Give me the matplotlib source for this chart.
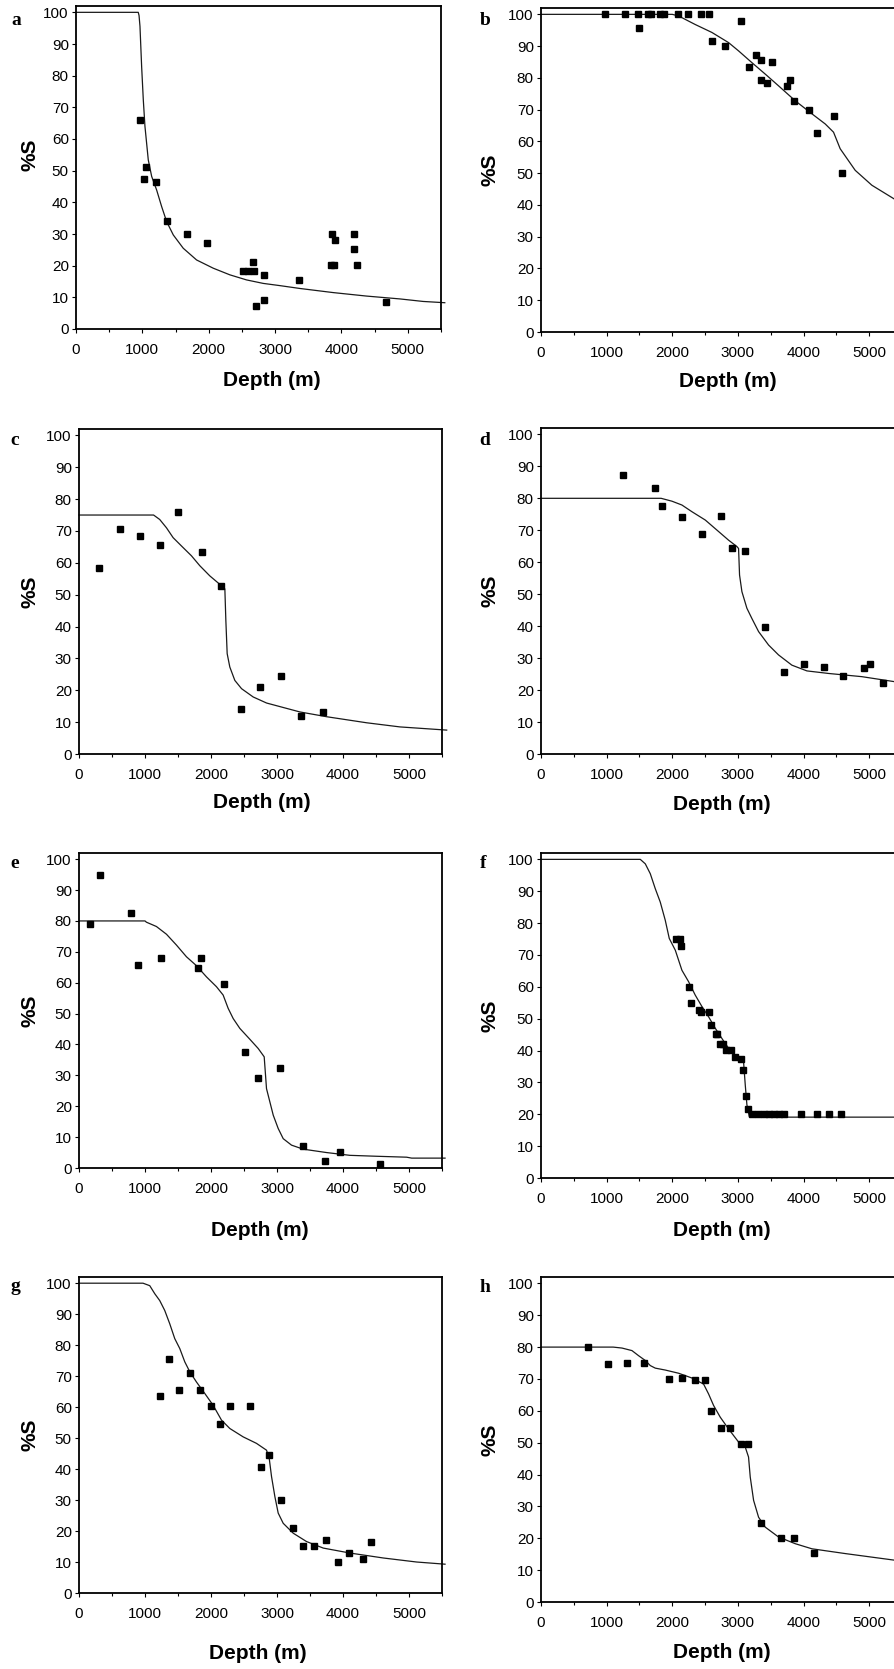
import matplotlib
matplotlib.use("Agg")
import matplotlib.pyplot as plt
from matplotlib.ticker import MultipleLocator

plt.rcParams['font.family'] = ['Liberation Sans', 'DejaVu Sans']

W, H = 895, 1669

# --- data (depth in m, %S) ---
a_depth = [969, 1024, 1054, 1210, 1370, 1667, 1968, 2510, 2595, 2681, 2666, 2716,
           2836, 2836, 3363, 3835, 3890, 3855, 3906, 4192, 4192, 4237, 4664]
a_s = [66.0, 47.3, 51.0, 46.3, 34.1, 30.0, 27.1, 18.3, 18.3, 18.3, 21.3, 7.3,
       17.2, 9.1, 15.4, 20.1, 20.1, 30.0, 28.2, 30.0, 25.2, 20.1, 8.4]
a_fit_depth = [0, 938, 950, 964, 989, 1014, 1039, 1064, 1089, 1140, 1215, 1290, 1366,
               1466, 1616, 1817, 2068, 2319, 2570, 2821, 3072, 3373, 3875, 4377, 4880,
               5231, 5557]
a_fit_s = [100, 100, 99, 95.6, 82.9, 72.4, 64.0, 58.7, 53.4, 48.2, 43.9, 38.7, 33.9,
           29.7, 25.5, 21.8, 19.2, 17.1, 15.5, 14.4, 13.7, 12.8, 11.5, 10.4, 9.5, 8.7, 8.3]

b_depth = [980, 1279, 1472, 1487, 1624, 1675, 1807, 1868, 2081, 2234, 2431, 2553, 3046,
           2604, 2802, 3173, 3279, 3345, 3513, 3345, 3437, 3741, 3797, 3848, 4076, 4198,
           4462, 4589]
b_s = [100, 100, 100, 95.7, 100, 100, 100, 100, 100, 100, 100, 100, 97.8, 91.7, 90.0,
       83.3, 87.3, 85.5, 85.1, 79.3, 78.3, 77.4, 79.3, 72.8, 69.8, 62.6, 68.0, 50.2]
b_fit_depth = [0, 2000, 2096, 2350, 2604, 2858, 3010, 3213, 3416, 3619, 3873, 4127, 4330,
               4457, 4558, 4787, 5041, 5396, 5500]
b_fit_s = [100, 100, 99.5, 96.8, 94.3, 91.1, 88.5, 84.8, 81.2, 77.5, 72.8, 68.7, 65.5,
           62.9, 57.7, 50.9, 46.2, 41.7, 40.6]

c_depth = [308, 622, 925, 1223, 1507, 1860, 2159, 2457, 2740, 3059, 3357, 3691]
c_s = [58.4, 70.7, 68.5, 65.5, 76.1, 63.4, 52.6, 14.1, 20.9, 24.6, 12.0, 13.3]
c_fit_depth = [0, 1130, 1223, 1325, 1426, 1552, 1704, 1830, 1982, 2159, 2210, 2225, 2245,
               2285, 2361, 2463, 2639, 2842, 3094, 3347, 3752, 4358, 4863, 5571]
c_fit_s = [75, 75, 73.6, 71.0, 67.9, 65.3, 62.2, 59.1, 55.9, 52.8, 51.8, 41.9, 31.5,
           27.3, 23.1, 20.5, 17.9, 16.0, 14.6, 13.2, 11.7, 9.8, 8.5, 7.5]

d_depth = [1244, 1741, 1848, 2147, 2447, 2746, 2909, 3102, 3406, 3706, 4005, 4310, 4604,
           4914, 5015, 5208]
d_s = [87.2, 83.2, 77.7, 74.1, 68.9, 74.6, 64.3, 63.5, 39.8, 25.8, 28.3, 27.2, 24.3,
       26.8, 28.3, 22.2]
d_fit_depth = [0, 1830, 1995, 2147, 2300, 2503, 2706, 2858, 2985, 3010, 3025, 3061, 3137,
               3213, 3315, 3467, 3619, 3822, 4051, 4381, 4888, 5396, 5500]
d_fit_s = [80, 80, 79.1, 77.9, 75.8, 73.2, 69.6, 66.9, 64.9, 64.3, 56.0, 50.8, 45.6,
           42.4, 38.3, 34.1, 31.0, 27.8, 26.0, 25.2, 24.2, 22.6, 22.4]

e_depth = [167, 324, 784, 890, 1244, 1805, 1855, 2194, 2513, 2705, 3038, 3392, 3726,
           3953, 4565]
e_s = [79.1, 94.9, 82.5, 65.6, 67.9, 64.9, 67.9, 59.6, 37.7, 29.0, 32.4, 7.2, 2.3, 5.3, 1.4]
e_fit_depth = [0, 1000, 1021, 1173, 1325, 1476, 1628, 1780, 1931, 2083, 2184, 2260, 2336,
               2437, 2588, 2715, 2806, 2841, 2892, 2943, 3018, 3094, 3220, 3397, 3751,
               4105, 4509, 4964, 5040, 5546]
e_fit_s = [80, 80, 79.6, 78.2, 75.7, 72.2, 68.4, 65.5, 61.9, 58.7, 56.0, 51.7, 48.4,
           45.2, 41.7, 38.7, 36.0, 25.7, 21.4, 17.1, 12.8, 9.5, 7.4, 6.1, 5.0, 4.1, 3.8,
           3.5, 3.2, 3.2]

f_depth = [2061, 2117, 2132, 2249, 2284, 2401, 2437, 2553, 2589, 2660, 2685, 2731, 2777,
           2822, 2893, 2959, 3051, 3081, 3117, 3157, 3213, 3305, 3391, 3467, 3543, 3619,
           3695, 3954, 4198, 4381, 4574]
f_s = [74.9, 74.9, 72.9, 60.0, 55.0, 52.8, 52.0, 52.0, 48.0, 45.1, 45.1, 42.0, 42.0,
       40.1, 40.1, 37.9, 37.2, 33.8, 25.8, 21.7, 20, 20, 20, 20, 20, 20, 20, 20, 20, 20, 20]
f_fit_depth = [0, 1513, 1589, 1665, 1741, 1817, 1893, 1954, 2046, 2147, 2249, 2350, 2452,
               2553, 2655, 2756, 2858, 2959, 3086, 3112, 3137, 3173, 3213, 5500]
f_fit_s = [100, 100, 98.6, 95.5, 90.8, 86.6, 80.9, 75.2, 71.5, 65.2, 61.6, 57.4, 53.8,
           50.6, 47.0, 43.8, 40.7, 38.6, 36.5, 29.2, 23.0, 19.3, 19.1, 19.1]

g_depth = [1223, 1365, 1522, 1684, 1840, 1997, 2139, 2295, 2598, 2760, 2882, 3059, 3246,
           3392, 3564, 3746, 3923, 4095, 4307, 4429]
g_s = [63.5, 75.5, 65.5, 71.0, 65.5, 60.2, 54.5, 60.2, 60.2, 40.7, 44.4, 29.9, 20.9,
       15.3, 15.3, 17.2, 10.1, 12.8, 10.9, 16.4]
g_fit_depth = [0, 970, 1072, 1148, 1223, 1299, 1375, 1451, 1527, 1603, 1679, 1780, 1906,
               2032, 2159, 2285, 2487, 2689, 2841, 2882, 2917, 2968, 3018, 3094, 3246,
               3448, 3701, 4105, 4611, 5116, 5546]
g_fit_s = [100, 100, 99.2, 96.6, 94.4, 91.2, 86.9, 82.1, 78.9, 74.6, 71.4, 68.1, 64.4,
           60.6, 55.8, 53.1, 50.4, 48.3, 46.1, 43.5, 37.6, 31.1, 25.8, 22.5, 19.3, 16.6,
           14.5, 12.9, 11.3, 10.0, 9.3]

h_depth = [711, 1015, 1315, 1563, 1949, 2147, 2340, 2503, 2589, 2736, 2873, 3046, 3152,
           3350, 3650, 3848, 4152]
h_s = [80.1, 74.7, 75.0, 75.0, 70.0, 70.2, 69.6, 69.6, 60.1, 54.6, 54.6, 49.6, 49.6,
       24.8, 20.0, 20.0, 15.4]
h_fit_depth = [0, 1100, 1234, 1386, 1487, 1589, 1665, 1741, 1893, 2096, 2299, 2477, 2553,
               2629, 2731, 2858, 3010, 3112, 3162, 3188, 3239, 3315, 3416, 3619, 3873,
               4127, 4635, 5396, 5500]
h_fit_s = [80, 80, 79.7, 78.9, 77.3, 75.8, 74.2, 73.4, 72.8, 71.8, 70.3, 68.4, 65.3,
           61.7, 58.0, 54.3, 50.2, 48.6, 45.5, 39.2, 31.9, 26.6, 23.5, 20.4, 18.3, 16.7,
           15.2, 13.1, 12.9]

x_ticks = [0, 1000, 2000, 3000, 4000, 5000]
y_ticks = list(range(0, 101, 10))

# layout in pixels: letter, data, left, y0 (bottom spine), top spine, width,
# letter pos (x, baseline), ylabel centre x, ylabel frac y, xlabel centre (x, y)
panels = [
    ('a', a_depth, a_s, a_fit_depth, a_fit_s, 76, 329, 6, 365, (16, 25), 30, 0.54, (272, 381)),
    ('b', b_depth, b_s, b_fit_depth, b_fit_s, 541, 332, 8, 361, (485, 25), 490, 0.5, (728, 381)),
    ('c', c_depth, c_s, c_fit_depth, c_fit_s, 79, 754, 429, 363, (15, 445), 30, 0.5, (262, 803)),
    ('d', d_depth, d_s, d_fit_depth, d_fit_s, 541, 754, 428, 361, (485, 445), 490, 0.5, (722, 805)),
    ('e', e_depth, e_s, e_fit_depth, e_fit_s, 79, 1168, 853, 363, (15, 868), 30, 0.5, (260, 1230)),
    ('f', f_depth, f_s, f_fit_depth, f_fit_s, 541, 1178, 853, 361, (483, 868), 490, 0.5, (722, 1230)),
    ('g', g_depth, g_s, g_fit_depth, g_fit_s, 79, 1593, 1277, 363, (15, 1291), 30, 0.5, (258, 1653)),
    ('h', h_depth, h_s, h_fit_depth, h_fit_s, 541, 1602, 1277, 361, (485, 1292), 490, 0.5, (722, 1652)),
]

fig = plt.figure(figsize=(W / 100, H / 100), dpi=100)

for (letter, px, ps, fx, fs, left, y0, top, width, lpos, ylx, yly, xlpos) in panels:
    height = y0 - top
    ax = fig.add_axes([left / W, 1 - y0 / H, width / W, height / H])
    ax.set_xlim(0, 5500)
    ax.set_ylim(0, 102)

    ax.plot(fx, fs, color='#1a1a1a', linewidth=0.9, clip_on=False, zorder=2)
    ax.plot(px, ps, linestyle='none', marker='s', markersize=4.6, color='black', zorder=3)

    ax.set_xticks(x_ticks)
    ax.set_yticks(y_ticks)
    ax.xaxis.set_minor_locator(MultipleLocator(500))
    ax.tick_params(axis='x', which='major', direction='out', length=3.2, width=0.8,
                   labelsize=11, pad=7)
    ax.tick_params(axis='x', which='minor', direction='out', length=2, width=0.8)
    ax.tick_params(axis='y', which='major', direction='out', length=3.2, width=0.8,
                   labelsize=11, pad=2)
    for sp in ax.spines.values():
        sp.set_linewidth(1.3)

    ax.set_xlabel('Depth (m)', fontsize=15, fontweight='bold')
    ax.xaxis.set_label_coords((xlpos[0] - left) / width, (y0 - xlpos[1]) / height)
    ax.xaxis.label.set_verticalalignment('center')
    ax.set_ylabel('%S', fontsize=15, fontweight='bold')
    ax.yaxis.set_label_coords((ylx - left) / width, yly)
    ax.yaxis.label.set_verticalalignment('center')

    fig.text(lpos[0] / W, 1 - lpos[1] / H, letter, ha='center', va='baseline',
             fontsize=14, fontweight='bold', family=['Liberation Serif', 'DejaVu Serif'])

fig.savefig('out.png', dpi=100)
